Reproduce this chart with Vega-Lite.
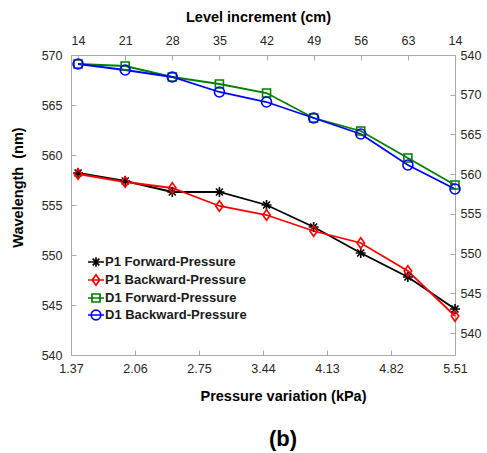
{
  "$schema": "https://vega.github.io/schema/vega-lite/v6.json",
  "width": 384,
  "height": 300,
  "autosize": {"type": "none"},
  "padding": {"left": 71, "top": 55, "right": 32, "bottom": 98},
  "background": "white",
  "config": {
    "font": "Liberation Sans",
    "view": {"stroke": null},
    "axis": {
      "domainColor": "#aaaaaa",
      "tickColor": "#aaaaaa",
      "labelColor": "#262626",
      "labelFontSize": 12.5,
      "labelFont": "Liberation Sans",
      "titleFont": "Liberation Sans",
      "titleFontSize": 14.5,
      "titleFontWeight": "bold",
      "titleColor": "#000000",
      "grid": false,
      "tickSize": -5,
      "labelFlush": false,
      "labelOverlap": false
    }
  },
  "title": {
    "text": "(b)",
    "orient": "bottom",
    "fontSize": 22,
    "fontWeight": "bold",
    "font": "Liberation Sans",
    "color": "#000000",
    "dx": 20,
    "offset": 26
  },
  "layer": [
    {
      "data": {
        "values": [
          {"series": "P1 Forward-Pressure", "level": 14, "wl": 558.2},
          {"series": "P1 Forward-Pressure", "level": 21, "wl": 557.4},
          {"series": "P1 Forward-Pressure", "level": 28, "wl": 556.3},
          {"series": "P1 Forward-Pressure", "level": 35, "wl": 556.3},
          {"series": "P1 Forward-Pressure", "level": 42, "wl": 555.0},
          {"series": "P1 Forward-Pressure", "level": 49, "wl": 552.8},
          {"series": "P1 Forward-Pressure", "level": 56, "wl": 550.2},
          {"series": "P1 Forward-Pressure", "level": 63, "wl": 547.8},
          {"series": "P1 Forward-Pressure", "level": 70, "wl": 544.6},
          {"series": "P1 Backward-Pressure", "level": 14, "wl": 558.1},
          {"series": "P1 Backward-Pressure", "level": 21, "wl": 557.3},
          {"series": "P1 Backward-Pressure", "level": 28, "wl": 556.7},
          {"series": "P1 Backward-Pressure", "level": 35, "wl": 554.9},
          {"series": "P1 Backward-Pressure", "level": 42, "wl": 554.0},
          {"series": "P1 Backward-Pressure", "level": 49, "wl": 552.4},
          {"series": "P1 Backward-Pressure", "level": 56, "wl": 551.2},
          {"series": "P1 Backward-Pressure", "level": 63, "wl": 548.4},
          {"series": "P1 Backward-Pressure", "level": 70, "wl": 543.9},
          {"series": "D1 Forward-Pressure", "level": 14, "wl": 569.1},
          {"series": "D1 Forward-Pressure", "level": 21, "wl": 568.9},
          {"series": "D1 Forward-Pressure", "level": 28, "wl": 567.8},
          {"series": "D1 Forward-Pressure", "level": 35, "wl": 567.1},
          {"series": "D1 Forward-Pressure", "level": 42, "wl": 566.2},
          {"series": "D1 Forward-Pressure", "level": 49, "wl": 563.7},
          {"series": "D1 Forward-Pressure", "level": 56, "wl": 562.4},
          {"series": "D1 Forward-Pressure", "level": 63, "wl": 559.7},
          {"series": "D1 Forward-Pressure", "level": 70, "wl": 557.0},
          {"series": "D1 Backward-Pressure", "level": 14, "wl": 569.1},
          {"series": "D1 Backward-Pressure", "level": 21, "wl": 568.5},
          {"series": "D1 Backward-Pressure", "level": 28, "wl": 567.8},
          {"series": "D1 Backward-Pressure", "level": 35, "wl": 566.3},
          {"series": "D1 Backward-Pressure", "level": 42, "wl": 565.3},
          {"series": "D1 Backward-Pressure", "level": 49, "wl": 563.7},
          {"series": "D1 Backward-Pressure", "level": 56, "wl": 562.1},
          {"series": "D1 Backward-Pressure", "level": 63, "wl": 559.0},
          {"series": "D1 Backward-Pressure", "level": 70, "wl": 556.6}
        ]
      },
      "encoding": {
        "x": {
          "field": "level",
          "type": "quantitative",
          "scale": {"domain": [12.95, 70], "nice": false, "zero": false},
          "axis": {
            "orient": "top",
            "title": "Level increment (cm)",
            "values": [14, 21, 28, 35, 42, 49, 56, 63, 70],
            "labelExpr": "datum.value == 70 ? '14' : datum.label",
            "labelPadding": 12.5,
            "titlePadding": 10,
            "titleX": 187
          }
        },
        "y": {
          "field": "wl",
          "type": "quantitative",
          "scale": {"domain": [540, 570], "nice": false, "zero": false},
          "axis": {
            "orient": "left",
            "title": "Wavelength\u00a0 (nm)",
            "values": [540, 545, 550, 555, 560, 565, 570],
            "labelPadding": 14,
            "titlePadding": 16,
            "titleY": 132
          }
        },
        "color": {
          "field": "series",
          "type": "nominal",
          "scale": {
            "domain": ["P1 Forward-Pressure", "P1 Backward-Pressure", "D1 Forward-Pressure", "D1 Backward-Pressure"],
            "range": ["#000000", "#ff0000", "#008000", "#0000ff"]
          },
          "legend": {
            "title": null,
            "orient": "none",
            "legendX": 16,
            "legendY": 198,
            "padding": 0,
            "symbolSize": 256,
            "symbolOpacity": 1,
            "symbolStrokeWidth": 1.7,
            "symbolFillColor": "transparent",
            "rowPadding": 0,
            "labelOffset": 0,
            "labelFontSize": 13,
            "labelFontWeight": "bold",
            "labelFont": "Liberation Sans",
            "labelColor": "#1a1a1a"
          }
        }
      },
      "layer": [
        {"mark": {"type": "line", "strokeWidth": 1.8}},
        {
          "transform": [{"filter": "datum.series === 'P1 Forward-Pressure'"}],
          "mark": {"type": "point", "filled": false, "strokeWidth": 1.6, "size": 100, "opacity": 1, "shape": "M-1,0L1,0M0,-1L0,1M-0.7,-0.7L0.7,0.7M-0.7,0.7L0.7,-0.7"}
        },
        {
          "transform": [{"filter": "datum.series === 'P1 Backward-Pressure'"}],
          "mark": {"type": "point", "filled": false, "strokeWidth": 1.6, "size": 100, "opacity": 1, "shape": "M0,-1.05L0.75,0L0,1.05L-0.75,0Z"}
        },
        {
          "transform": [{"filter": "datum.series === 'D1 Forward-Pressure'"}],
          "mark": {"type": "point", "filled": false, "strokeWidth": 1.6, "size": 100, "opacity": 1, "shape": "M-0.8,-0.8L0.8,-0.8L0.8,0.8L-0.8,0.8Z"}
        },
        {
          "transform": [{"filter": "datum.series === 'D1 Backward-Pressure'"}],
          "mark": {"type": "point", "filled": false, "strokeWidth": 1.6, "size": 100, "opacity": 1, "shape": "circle"}
        },
        {
          "mark": {"type": "point", "filled": false, "opacity": 0},
          "encoding": {
            "shape": {
              "field": "series",
              "type": "nominal",
              "scale": {
                "domain": ["P1 Forward-Pressure", "P1 Backward-Pressure", "D1 Forward-Pressure", "D1 Backward-Pressure"],
                "range": [
                  "M-1,0L1,0M0,-0.58L0,0.58M-0.42,-0.42L0.42,0.42M-0.42,0.42L0.42,-0.42",
                  "M-1,0L1,0M0,-0.66L0.47,0L0,0.66L-0.47,0Z",
                  "M-1,0L1,0M-0.5,-0.5L0.5,-0.5L0.5,0.5L-0.5,0.5Z",
                  "M-1,0L1,0M-0.6,0A0.6,0.6 0 1,1 0.6,0A0.6,0.6 0 1,1 -0.6,0Z"
                ]
              },
              "legend": {
                "title": null,
                "orient": "none",
                "legendX": 16,
                "legendY": 198,
                "padding": 0,
                "symbolSize": 256,
                "symbolOpacity": 1,
                "symbolStrokeWidth": 1.7,
                "symbolFillColor": "transparent",
                "rowPadding": 0,
                "labelOffset": 0,
                "labelFontSize": 13,
                "labelFontWeight": "bold",
                "labelFont": "Liberation Sans",
                "labelColor": "#1a1a1a"
              }
            }
          }
        }
      ]
    },
    {
      "data": {"values": [{"p": 1.37, "w2": 540}]},
      "mark": {"type": "point", "opacity": 0},
      "encoding": {
        "x": {
          "field": "p",
          "type": "quantitative",
          "scale": {"domain": [1.37, 5.51], "nice": false, "zero": false},
          "axis": {
            "orient": "bottom",
            "title": "Pressure variation (kPa)",
            "values": [1.37, 2.06, 2.75, 3.44, 4.13, 4.82, 5.51],
            "format": ".2f",
            "labelPadding": 12.5,
            "titlePadding": 14,
            "titleX": 212
          }
        },
        "y": {
          "field": "w2",
          "type": "quantitative",
          "scale": {"domain": [537.25, 575], "nice": false, "zero": false},
          "axis": {
            "orient": "right",
            "title": null,
            "values": [540, 545, 550, 555, 560, 565, 570, 575],
            "labelExpr": "datum.value == 575 ? '540' : datum.label",
            "labelPadding": 10
          }
        }
      }
    }
  ],
  "resolve": {"scale": {"x": "independent", "y": "independent"}}
}
